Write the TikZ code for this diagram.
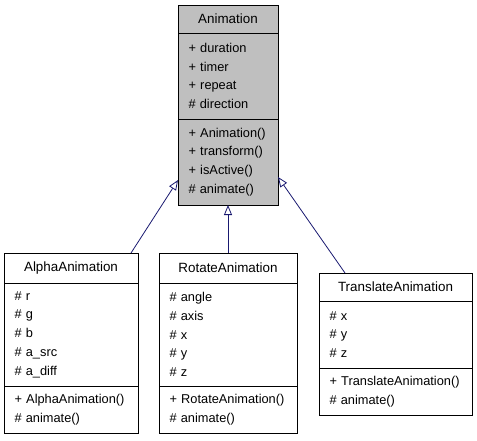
\documentclass[tikz,border=0pt]{standalone}
\usepackage{fontspec}
\setmainfont{Liberation Sans}
\usetikzlibrary{positioning,calc,arrows.meta}
\definecolor{edgeblue}{HTML}{191970}
\definecolor{basegray}{HTML}{BFBFBF}
\tikzset{
    class_title/.style={
        draw,
        rectangle,
        line width=0.9pt,
        outer sep=0pt,
        inner sep=2pt,
        align=center,
        font=\fontsize{13.4}{16}\selectfont
    },
    class_part/.style={
        draw,
        rectangle,
        line width=0.9pt,
        outer sep=0pt,
        inner ysep=2pt,
        inner xsep=10.5pt,
        align=left,
        execute at begin node={\hyphenpenalty=10000\exhyphenpenalty=10000}
    },
    inherit/.style={
        draw=edgeblue,
        line width=0.8pt,
        -{Triangle[open,length=10pt,width=8pt,line width=0.8pt]}
    },
}

\begin{document}
\begin{tikzpicture}[x=1pt, y=1pt, font=\fontsize{12.8}{18.7}\selectfont]
    \useasboundingbox (0,0) rectangle (477,440);

    % base class
    \node[class_title, fill=basegray, anchor=north west, minimum width=100pt, minimum height=28pt] (anim) at (178,435) {Animation};
    \node[class_part, fill=basegray, below=0pt of anim, minimum width=100pt, minimum height=86pt, text width=79pt] (anim_attr) {+~duration\\+~timer\\+~repeat\\\#~direction};
    \node[class_part, fill=basegray, below=0pt of anim_attr, minimum width=100pt, minimum height=86pt, text width=79pt] (anim_ops) {+~Animation()\\+~transform()\\+~isActive()\\\#~animate()};

    % derived classes
    \node[class_title, anchor=north west, minimum width=134pt, minimum height=30pt] (alpha) at (4,187) {AlphaAnimation};
    \node[class_part, below=0pt of alpha, minimum width=134pt, minimum height=103pt, text width=113pt] (alpha_attr) {\#~r\\\#~g\\\#~b\\\#~a\_src\\\#~a\_diff};
    \node[class_part, below=0pt of alpha_attr, minimum width=134pt, minimum height=47pt, text width=113pt] (alpha_ops) {+~AlphaAnimation()\\\#~animate()};

    \node[class_title, anchor=north west, minimum width=138pt, minimum height=30pt] (rotate) at (159,187) {RotateAnimation};
    \node[class_part, below=0pt of rotate, minimum width=138pt, minimum height=103pt, text width=117pt] (rotate_attr) {\#~angle\\\#~axis\\\#~x\\\#~y\\\#~z};
    \node[class_part, below=0pt of rotate_attr, minimum width=138pt, minimum height=47pt, text width=117pt] (rotate_ops) {+~RotateAnimation()\\\#~animate()};

    \node[class_title, anchor=north west, minimum width=153pt, minimum height=28pt] (translate) at (319,167) {TranslateAnimation};
    \node[class_part, below=0pt of translate, minimum width=153pt, minimum height=67pt, text width=132pt] (translate_attr) {\#~x\\\#~y\\\#~z};
    \node[class_part, below=0pt of translate_attr, minimum width=153pt, minimum height=47pt, text width=132pt] (translate_ops) {+~TranslateAnimation()\\\#~animate()};

    \coordinate[] (alpha_out) at ($(alpha.north west)!0.948!(alpha.north east)$);
    \coordinate[] (translate_out) at ($(translate.north west)!0.17!(translate.north east)$);
    \coordinate[] (anim_in_left) at ($(anim_ops.north west)!0.71!(anim_ops.south west)$);
    \coordinate[] (anim_in_right) at ($(anim_ops.north east)!0.674!(anim_ops.south east)$);

    \draw[inherit] (alpha_out) -- (anim_in_left);
    \draw[inherit] (rotate.north) -- (anim_ops.south);
    \draw[inherit] (translate_out) -- (anim_in_right);
\end{tikzpicture}
\end{document}
